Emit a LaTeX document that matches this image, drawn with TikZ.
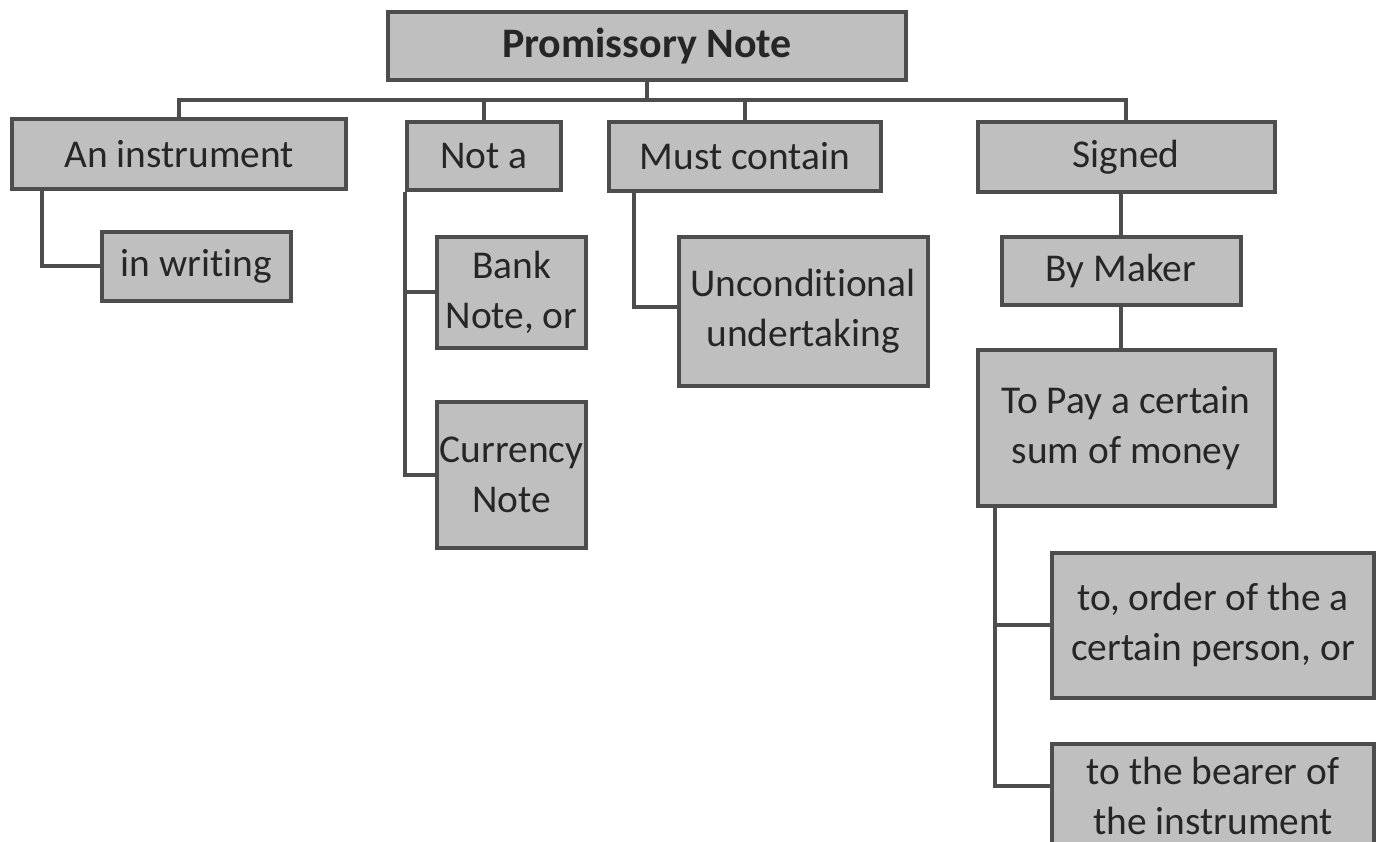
\documentclass[tikz,border=0pt]{standalone}
\usepackage{fontspec}
\setmainfont{Carlito}[Ligatures=NoCommon]
\usetikzlibrary{positioning}
\definecolor{boxfill}{HTML}{BFBFBF}
\definecolor{boxline}{HTML}{4D4D4D}
\definecolor{ink}{HTML}{262626}
\tikzset{%
  % Specifications for style of nodes:
            box/.style = {rectangle, draw=boxline, fill=boxfill,
                          line width=4pt, inner sep=0pt, align=center,
                          text=ink, font=\fontsize{39.4}{50}\selectfont},
            head/.style = {box, font=\bfseries\fontsize{42}{50}\selectfont},
            link/.style = {draw=boxline, line width=4pt}
}
\begin{document}
\begin{tikzpicture}[x=1pt, y=-1pt]
                        \useasboundingbox (0,0) rectangle (1379,842);
                        \node (note)[head, minimum width=518pt, minimum height=68pt] at (647,46) {Promissory Note};
                        \node (inst)[box, minimum width=334pt, minimum height=70pt] at (179,154) {An instrument};
                        \node (writ)[box, minimum width=189pt, minimum height=69pt] at (196.5,266.5) {in writing};
                        \node (nota)[box, minimum width=154pt, minimum height=68pt] at (484,156.5) {Not a};
                        \node (bank)[box, minimum width=149pt, minimum height=111pt] at (511.5,292.5) {Bank\\Note, or};
                        \node (curr)[box, minimum width=149pt, minimum height=146pt] at (511.5,475) {Currency\\Note};
                        \node (must)[box, minimum width=272pt, minimum height=69pt] at (745,156.5) {Must contain};
                        \node (uncd)[box, minimum width=249pt, minimum height=149pt] at (803,311.5) {Unconditional\\undertaking};
                        \node (sign)[box, minimum width=297pt, minimum height=70pt] at (1126,157) {Signed};
                        \node (make)[box, minimum width=239pt, minimum height=68pt] at (1121,271) {By Maker};
                        \node (pay)[box, minimum width=297pt, minimum height=156pt] at (1126,428) {To Pay a certain\\sum of money};
                        \node (ordr)[box, minimum width=322pt, minimum height=145pt] at (1213,625) {to, order of the a\\certain person, or};
                        \node (bear)[box, minimum width=322pt, minimum height=104pt] at (1213,796) {to the bearer of\\the instrument};
                        \coordinate (bus) at (0,100);
                        \draw[link] (note.south) -- (note.south |- bus);
                        \draw[link] (inst.north) -- (inst.north |- bus) -| (sign.north);
                        \draw[link] (nota.north) -- (nota.north |- bus);
                        \draw[link] (must.north) -- (must.north |- bus);
                        \draw[link] ([xshift=32pt]inst.south west) |- (writ.west);
                        \draw[link] (nota.south west) |- (curr.west);
                        \draw[link] (nota.south west |- bank.west) -- (bank.west);
                        \draw[link] ([xshift=27pt]must.south west) |- ([yshift=4pt]uncd.west);
                        \draw[link] (make.north) -- (make.north |- sign.south);
                        \draw[link] (make.south) -- (make.south |- pay.north);
                        \draw[link] ([xshift=19pt]pay.south west) |- ([yshift=10pt]bear.west);
                        \draw[link] ([xshift=19pt]pay.south west |- ordr.west) -- (ordr.west);
                    \end{tikzpicture}
\end{document}
